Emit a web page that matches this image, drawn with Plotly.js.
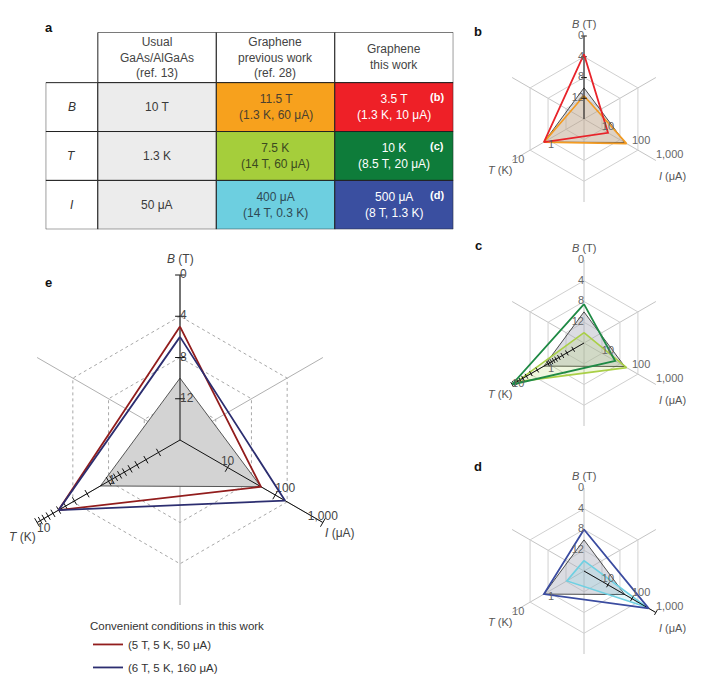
<!DOCTYPE html>
<html><head><meta charset="utf-8">
<script src="https://cdn.plot.ly/plotly-3.0.1.min.js"></script>
<style>body{margin:0;background:#fff}#chart{width:711px;height:690px}</style>
</head><body><div id="chart"></div><script>
// ---------------- data ----------------
const tableTitle = '1 × 10<sup>−9</sup> accuracy of <i>R</i><sub>H</sub>';
const tableColumns = ['Usual<br>GaAs/AlGaAs<br>(ref. 13)', 'Graphene<br>previous work<br>(ref. 28)', 'Graphene<br>this work'];
const tableRows = ['B', 'T', 'I'];
const gaasCells = ['10 T', '1.3 K', '50 μA'];
const prevMain = ['11.5 T', '7.5 K', '400 μA'];
const prevCond = ['(1.3 K, 60 μA)', '(14 T, 60 μA)', '(14 T, 0.3 K)'];
const thisMain = ['3.5 T', '10 K', '500 μA'];
const thisCond = ['(1.3 K, 10 μA)', '(8.5 T, 20 μA)', '(8 T, 1.3 K)'];
const panelRefs = ['(b)', '(c)', '(d)'];

// radar values: [B (T), T (K), I (μA)]
const gaas = [10, 1.3, 50];
const prevB = [11.5, 1.3, 60];
const thisB = [3.5, 1.3, 10];
const prevT = [14, 7.5, 60];
const thisT = [8.5, 10, 20];
const prevI = [14, 0.3, 400];
const thisI = [8, 1.3, 500];
const conv1 = [5, 5, 50];
const conv2 = [6, 5, 160];
const conv1Label = '(5 T, 5 K, 50 μA)';
const conv2Label = '(6 T, 5 K, 160 μA)';
const legendTitle = 'Convenient conditions in this work';

// axis ticks
const bTicks = [0, 4, 8, 12];
const bTickLabels = ['0', '4', '8', '12'];
const tTicksMajor = [1, 10];
const tTickLabels = ['1', '10'];
const tTicksMinor = [0.2, 0.3, 0.4, 0.5, 0.6, 0.7, 0.8, 0.9, 2, 3, 4, 5, 6, 7, 8, 9];
const iTicks = [10, 100, 1000];
const iTickLabels = ['10', '100', '1,000'];

// ---------------- styling / layout ----------------
const W = 711, H = 690;
const FONT = 'Liberation Sans, Arial, sans-serif';
const cats = ['B', 'p1', 'T', 'p2', 'I', 'p3'];
// normalised radial scales of the three axes
const rB = b => (16 - b) / 16;            // linear, 0 T at the rim, 16 T at centre
const rT = t => (Math.log10(t) + 1) / 2;  // log, 0.1 K at centre, 10 K at the rim
const rI = i => Math.log10(i) / 3;        // log, 1 μA at centre, 1,000 μA at rim
const triR = v => [rB(v[0]), rT(v[1]), rI(v[2]), rB(v[0])];
const triTheta = ['B', 'T', 'I', 'B'];

const panels = {
  e: {id: 'polar', cx: 180, cy: 440, R: 165},
  b: {id: 'polar2', cx: 584, cy: 119, R: 83},
  c: {id: 'polar3', cx: 584, cy: 343, R: 83},
  d: {id: 'polar4', cx: 584, cy: 571, R: 83}
};

const traces = [];
const annotations = [];
const shapes = [];

function polarLayout(p, big) {
  return {
    domain: {x: [(p.cx - p.R) / W, (p.cx + p.R) / W], y: [1 - (p.cy + p.R) / H, 1 - (p.cy - p.R) / H]},
    bgcolor: 'rgba(0,0,0,0)',
    gridshape: 'linear',
    angularaxis: {type: 'category', categoryorder: 'array', categoryarray: cats, rotation: 90,
      direction: 'counterclockwise', showticklabels: false, ticks: '', showline: false,
      showgrid: true, gridcolor: big ? '#b0b0b0' : '#c4c4c4', gridwidth: 1},
    radialaxis: {range: [0, 1], tickvals: [0.25, 0.5, 0.75, 1], showticklabels: false, ticks: '',
      showline: false, showgrid: true, gridcolor: big ? '#a8a8a8' : '#d0d0d0', griddash: big ? 'dot' : 'solid', gridwidth: 1}
  };
}

function base(p) {
  traces.push({type: 'scatterpolar', subplot: p.id, r: [0, 0, 0, 0, 0, 0], theta: cats, mode: 'markers',
    marker: {opacity: 0}, hoverinfo: 'skip', showlegend: false});
}
function triangle(p, v, opt) {
  traces.push(Object.assign({type: 'scatterpolar', subplot: p.id, r: triR(v), theta: triTheta,
    mode: 'lines', hoverinfo: 'skip', showlegend: false}, opt));
}
function axisLine(p, cat) {
  traces.push({type: 'scatterpolar', subplot: p.id, r: [0, 1], theta: [cat, cat], mode: 'lines',
    line: {color: '#111', width: 1}, hoverinfo: 'skip', showlegend: false});
}
function ticks(p, cat, rs, size) {
  const ang = cat === 'B' ? 0 : (cat === 'T' ? 60 : -60);
  traces.push({type: 'scatterpolar', subplot: p.id, r: rs, theta: rs.map(() => cat), mode: 'markers',
    marker: {symbol: 'line-ew', size: size, angle: ang, color: '#111', line: {color: '#111', width: 1}},
    hoverinfo: 'skip', showlegend: false});
}
function tickText(p, cat, rs, labels, pos, color, size) {
  traces.push({type: 'scatterpolar', subplot: p.id, r: rs, theta: rs.map(() => cat), mode: 'text',
    text: labels, textposition: pos, textfont: {family: FONT, size: size, color: color},
    cliponaxis: false, hoverinfo: 'skip', showlegend: false});
}
function axisTitles(p, offs, color, size) {
  const t = [['<i>B</i> (T)', 0, -offs.b], ['<i>T</i> (K)', offs.t[0], offs.t[1]], ['<i>I</i> (μA)', offs.i[0], offs.i[1]]];
  t.forEach(([txt, dx, dy]) => annotations.push({xref: 'paper', yref: 'paper', x: (p.cx + dx) / W, y: 1 - (p.cy + dy) / H,
    text: txt, showarrow: false, xanchor: 'center', yanchor: 'middle', font: {family: FONT, size: size, color: color}}));
}

// ---------- panel e ----------
(function () {
  const p = panels.e;
  base(p);
  triangle(p, gaas, {fill: 'toself', fillcolor: '#d3d3d3', line: {color: '#555', width: 1}});
  axisLine(p, 'B'); axisLine(p, 'T'); axisLine(p, 'I');
  ticks(p, 'B', bTicks.map(rB), 7);
  ticks(p, 'T', tTicksMajor.map(rT), 7);
  ticks(p, 'T', tTicksMinor.map(rT), 6);
  ticks(p, 'I', iTicks.map(rI), 7);
  tickText(p, 'B', bTicks.map(rB), bTickLabels, 'middle right', '#444', 12);
  tickText(p, 'T', tTicksMajor.map(rT), tTickLabels, ['middle right', 'bottom right'], '#444', 12);
  tickText(p, 'I', iTicks.map(rI), iTickLabels, ['top center', 'top right', 'top center'], '#444', 12);
  traces.push({type: 'scatterpolar', subplot: p.id, r: triR(conv1), theta: triTheta, mode: 'lines',
    line: {color: '#921d1d', width: 1.8}, name: conv1Label, legendgroup: 'g1', hoverinfo: 'skip'});
  traces.push({type: 'scatterpolar', subplot: p.id, r: triR(conv2), theta: triTheta, mode: 'lines',
    line: {color: '#2c2e70', width: 1.8}, name: conv2Label, legendgroup: 'g2', hoverinfo: 'skip'});
  axisTitles(p, {b: 181, t: [-158, 97], i: [160, 93]}, '#444', 12);
})();

// ---------- small panels ----------
function smallPanel(p, prev, curr, prevColor, prevFill, currColor, hi) {
  base(p);
  triangle(p, gaas, {fill: 'toself', fillcolor: 'rgba(175,178,190,0.45)', line: {color: '#222', width: 0.8}});
  triangle(p, prev, {fill: 'toself', fillcolor: prevFill, line: {color: prevColor, width: 1.6}});
  axisLine(p, hi);
  if (hi === 'B') ticks(p, 'B', bTicks.map(rB), 4);
  if (hi === 'T') ticks(p, 'T', tTicksMajor.concat(tTicksMinor).map(rT), 4);
  if (hi === 'I') ticks(p, 'I', iTicks.map(rI), 4);
  triangle(p, curr, {line: {color: currColor, width: 1.8}});
  tickText(p, 'B', bTicks.map(rB), bTickLabels, 'middle left', '#666', 11);
  tickText(p, 'T', tTicksMajor.map(rT), tTickLabels, ['bottom right', 'middle right'], '#666', 11);
  tickText(p, 'I', iTicks.map(rI), iTickLabels, ['top center', 'top right', 'top right'], '#666', 11);
  axisTitles(p, {b: 95, t: [-84, 51], i: [88, 57]}, '#555', 11);
}
smallPanel(panels.b, prevB, thisB, '#f39b22', 'rgba(243,155,34,0.15)', '#e8232a', 'B');
smallPanel(panels.c, prevT, thisT, '#a9cf46', 'rgba(169,207,70,0.18)', '#1f8a45', 'T');
smallPanel(panels.d, prevI, thisI, '#6fd0e2', 'rgba(111,208,226,0.18)', '#3b4ca0', 'I');

// ---------- table (a) ----------
const colW = [0.44, 1, 1, 1];
const headerH = 1.03;
const edges = colW.reduce((a, w) => a.concat(a[a.length - 1] + w), [0]);
const cellFill = [
  ['#ffffff', '#ffffff', '#ffffff'],
  ['#ececec', '#ececec', '#ececec'],
  ['#f7a11d', '#a5ce3b', '#6dcfe0'],
  ['#ee2027', '#0e7c3a', '#3a4fa0']
];
const cellText = [
  ['#333', '#333', '#333'],
  ['#3a3a3a', '#3a3a3a', '#3a3a3a'],
  ['#4a4030', '#3b4a20', '#2f4a55'],
  ['#ffffff', '#ffffff', '#ffffff']
];
const bodyCols = [tableRows.map(s => '<i>' + s + '</i>'), gaasCells,
  prevMain.map((m, k) => m + '<br>' + prevCond[k]), thisMain.map((m, k) => m + '<br>' + thisCond[k])];
const LINE = {color: '#222', width: 1};
tableColumns.forEach((txt, k) => {
  const c = k + 1;
  shapes.push({type: 'rect', xref: 'x', yref: 'y', x0: edges[c], x1: edges[c + 1], y0: 0, y1: headerH,
    fillcolor: '#fff', line: LINE, layer: 'below'});
  annotations.push({xref: 'x', yref: 'y', x: (edges[c] + edges[c + 1]) / 2, y: headerH / 2, text: txt,
    showarrow: false, font: {family: FONT, size: 12, color: '#444'}, align: 'center'});
});
bodyCols.forEach((col, c) => {
  col.forEach((txt, r) => {
    const y0 = headerH + r, y1 = headerH + r + 1;
    shapes.push({type: 'rect', xref: 'x', yref: 'y', x0: edges[c], x1: edges[c + 1], y0: y0, y1: y1,
      fillcolor: cellFill[c][r], line: LINE, layer: 'below'});
    annotations.push({xref: 'x', yref: 'y', x: (edges[c] + edges[c + 1]) / 2, y: (y0 + y1) / 2, text: txt,
      showarrow: false, font: {family: FONT, size: 12, color: cellText[c][r]}, align: 'center'});
  });
});
panelRefs.forEach((txt, r) => {
  annotations.push({xref: 'x', yref: 'y', x: edges[4] - 0.14, y: headerH + r + 0.29, text: '<b>' + txt + '</b>',
    showarrow: false, font: {family: FONT, size: 11, color: '#fff'}});
});
annotations.push({xref: 'x', yref: 'y', x: (edges[1] + edges[4]) / 2, y: -0.26, text: tableTitle,
  showarrow: false, font: {family: FONT, size: 12, color: '#333'}});

// panel letters
[['a', 43, 18], ['b', 484, 22], ['c', 484, 245], ['d', 484, 476], ['e', 43, 282]].forEach(([t, x, y]) => {
  annotations.push({xref: 'paper', yref: 'paper', x: x / W, y: 1 - y / H, text: '<b>' + t + '</b>', showarrow: false,
    font: {family: FONT, size: 13, color: '#111'}});
});

const tblTop = 32.3, tblBottom = 229.3, tblLeft = 45.7, tblRight = 453.3;
const layout = {
  width: W, height: H, margin: {l: 0, r: 0, t: 0, b: 0},
  paper_bgcolor: '#fff', plot_bgcolor: 'rgba(0,0,0,0)',
  font: {family: FONT},
  polar: polarLayout(panels.e, true),
  polar2: polarLayout(panels.b, false),
  polar3: polarLayout(panels.c, false),
  polar4: polarLayout(panels.d, false),
  xaxis: {domain: [tblLeft / W, tblRight / W], range: [0, edges[4]], visible: false, fixedrange: true},
  yaxis: {domain: [1 - tblBottom / H, 1 - tblTop / H], range: [headerH + 3, 0], visible: false, fixedrange: true},
  shapes: shapes,
  annotations: annotations,
  showlegend: true,
  legend: {x: 88 / W, y: 1 - 615 / H, xanchor: 'left', yanchor: 'top', bgcolor: 'rgba(0,0,0,0)',
    title: {text: legendTitle, font: {family: FONT, size: 11.5, color: '#333'}},
    font: {family: FONT, size: 11.5, color: '#333'}, tracegroupgap: 4, itemwidth: 30}
};
// dummy trace to keep the table axes alive
traces.push({type: 'scatter', x: [0], y: [0], mode: 'markers', marker: {opacity: 0}, hoverinfo: 'skip', showlegend: false, xaxis: 'x', yaxis: 'y'});

Plotly.newPlot('chart', traces, layout, {staticPlot: true});
</script></body></html>
